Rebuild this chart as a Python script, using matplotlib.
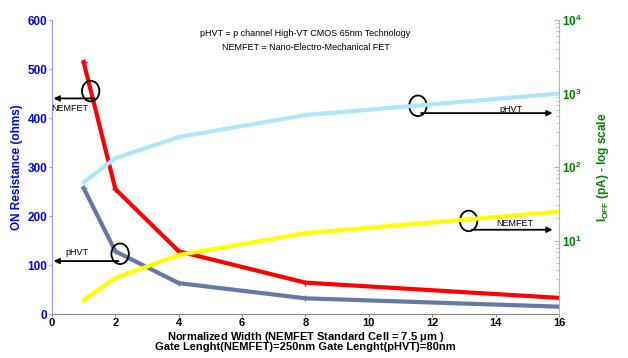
import matplotlib.pyplot as plt
import numpy as np
from matplotlib.patches import Ellipse

# Data
width = [1, 2, 4, 8, 16]
ron_nemfet = [514, 255, 128, 64, 33]
ron_phvt = [257, 128, 63, 32, 15]
ioff_phvt = [62, 132, 256, 509, 1000]
ioff_nemfet = [1.55, 3.1, 6.35, 12.6, 24.7]

plt.rcParams['font.family'] = ['Liberation Sans', 'DejaVu Sans']

fig = plt.figure(figsize=(6.28, 3.58), dpi=100)
ax = fig.add_axes([0.0828, 0.1229, 0.8072, 0.8211])
ax2 = ax.twinx()

# Left axis: ON resistance
ax.plot(width, ron_nemfet, color='#ff0000', lw=3, marker='+', ms=4, mew=1, zorder=3)
ax.plot(width, ron_phvt, color='#6677aa', lw=3, marker='+', ms=4, mew=1, zorder=3)
ax.set_xlim(0, 16)
ax.set_ylim(0, 600)
ax.set_xticks(range(0, 17, 2))
ax.set_yticks(range(0, 601, 100))

# Right axis: I_OFF log scale
ax2.plot(width, ioff_phvt, color='#aee6fa', lw=3, marker='+', ms=4, mew=1)
ax2.plot(width, ioff_nemfet, color='#ffff00', lw=3, marker='+', ms=4, mew=1)
ax2.set_yscale('log')
ax2.set_ylim(1, 1e4)
ax2.set_yticks([10, 100, 1000, 10000])

for a in (ax, ax2):
    a.spines['top'].set_visible(False)
ax.spines['left'].set_color('#9999ff')
ax.spines['bottom'].set_color('#888888')
ax.spines['right'].set_visible(False)
ax2.spines['left'].set_visible(False)
ax2.spines['bottom'].set_visible(False)
ax2.spines['right'].set_color('#99cc99')

ax.tick_params(axis='y', colors='#9999ff', labelcolor='#0000ff', labelsize=8.5, length=2.5, pad=1)
ax.tick_params(axis='x', colors='#888888', labelcolor='black', labelsize=8, length=2.5, pad=0.5)
ax2.tick_params(axis='y', which='both', colors='#99cc99', labelcolor='#008000',
                labelsize=8.5, direction='in', pad=2)
for lab in ax.get_xticklabels() + ax.get_yticklabels() + ax2.get_yticklabels():
    lab.set_fontweight('bold')

ax.set_ylabel('ON Resistance (ohms)', color='#0000ff', fontsize=8.5, fontweight='bold', labelpad=3)
ax2.set_ylabel(r'$\mathregular{I_{OFF}}$ (pA) - log scale', color='#008000', fontsize=8.5,
               fontweight='bold', labelpad=10)

# Two-line x label placed by hand to fit the tight bottom margin
xc = 0.0828 + 0.8072 / 2
fig.text(xc, 1 - 336.5 / 358, 'Normalized Width (NEMFET Standard Cell = 7.5 $\\mathregular{\\mu}$m )',
         ha='center', va='center', fontsize=8, fontweight='bold')
fig.text(xc, 1 - 347.5 / 358, 'Gate Lenght(NEMFET)=250nm Gate Lenght(pHVT)=80nm',
         ha='center', va='center', fontsize=8, fontweight='bold')

# Header text
ax.text(0.5, 0.955, 'pHVT = p channel High-VT CMOS 65nm Technology',
        transform=ax.transAxes, ha='center', va='center', fontsize=6.5)
ax.text(0.5, 0.905, 'NEMFET = Nano-Electro-Mechanical FET',
        transform=ax.transAxes, ha='center', va='center', fontsize=6.5)

# Annotation circles and arrows
def mark(cx, cy, x0, y0, x1, txt, tx, ty):
    ax.add_patch(Ellipse((cx, cy), 0.55, 42, fill=False, lw=1.3, color='black', zorder=5))
    ax.annotate('', xy=(x1, y0), xytext=(x0, y0),
                arrowprops=dict(arrowstyle='-|>', color='black', lw=1.3,
                                mutation_scale=8, shrinkA=0, shrinkB=0), zorder=5)
    ax.text(tx, ty, txt, fontsize=6.5, ha='center', va='center', zorder=5)

mark(1.22, 455, 1.35, 440, 0.05, 'NEMFET', 0.55, 419)
mark(2.15, 123, 2.1, 108, 0.05, 'pHVT', 0.8, 126)
mark(11.55, 425, 11.65, 410, 15.8, 'pHVT', 14.5, 418)
mark(13.15, 190, 13.25, 172, 15.8, 'NEMFET', 14.6, 185)

fig.savefig('out.png', dpi=100)
